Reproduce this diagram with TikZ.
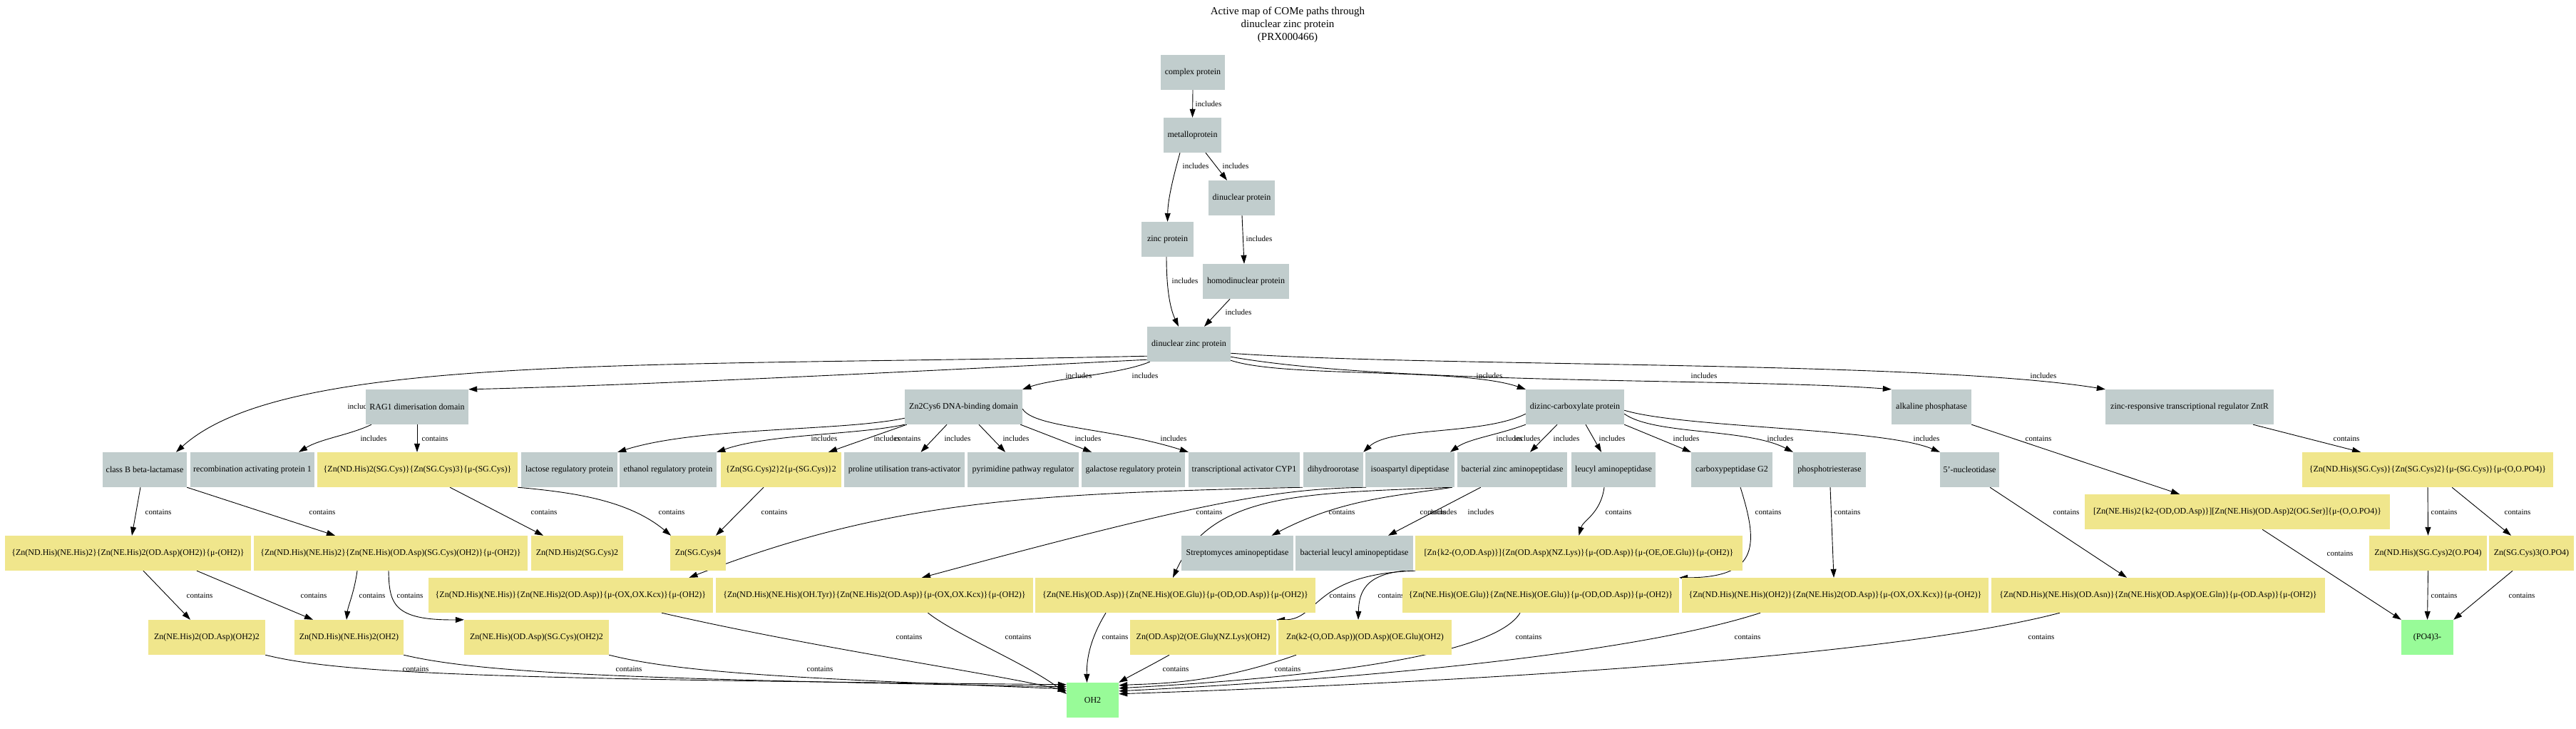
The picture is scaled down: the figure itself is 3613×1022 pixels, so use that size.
\documentclass[tikz,border=0pt]{standalone}
\usepackage{fontspec}
\setmainfont{Liberation Serif}
\usetikzlibrary{arrows.meta}
\pgfdeclarelayer{bg}
\pgfdeclarelayer{paper}
\pgfsetlayers{paper,bg,main}
\definecolor{gcol}{HTML}{C1CDCD}
\definecolor{ycol}{HTML}{F0E68C}
\definecolor{pcol}{HTML}{98FB98}
\tikzset{
  box/.style={rectangle, inner sep=0pt, minimum height=49pt, font=\fontsize{12}{14}\selectfont},
  gbox/.style={box, fill=gcol},
  ybox/.style={box, fill=ycol},
  pbox/.style={box, fill=pcol},
  lbl/.style={font=\fontsize{11}{13}\selectfont, inner sep=0pt},
  edge/.style={line width=0.9pt, -{Triangle[length=12pt,width=8pt]}},
}
\begin{document}
\begin{tikzpicture}[x=1pt,y=-1pt]
\begin{pgfonlayer}{paper}
\fill[white] (0,0) rectangle (3613,1022);
\end{pgfonlayer}
\useasboundingbox (0,0) rectangle (3613,1022);
\node[font=\fontsize{15}{18}\selectfont, align=center, inner sep=0pt] (title) at (1806,35) {Active map of COMe paths through\\dinuclear zinc protein\\(PRX000466)};
% top chain
\node[gbox, minimum width=90pt] (cp) at (1673,101.5) {complex protein};
\node[gbox, minimum width=81pt] (mp) at (1672.5,189.5) {metalloprotein};
\node[gbox, minimum width=93pt] (dp) at (1741.5,277.5) {dinuclear protein};
\node[gbox, minimum width=73pt] (zp) at (1637.5,335.5) {zinc protein};
\node[gbox, minimum width=121pt] (hp) at (1747.5,394.5) {homodinuclear protein};
\node[gbox, minimum width=117pt] (dzp) at (1667.5,482.5) {dinuclear zinc protein};
% row 1
\node[gbox, minimum width=144pt] (rag) at (585,570.5) {RAG1 dimerisation domain};
\node[gbox, minimum width=165pt] (zc6) at (1351.5,570.5) {Zn2Cys6 DNA-binding domain};
\node[gbox, minimum width=138pt] (dcp) at (2209,570.5) {dizinc-carboxylate protein};
\node[gbox, minimum width=112pt] (alp) at (2709,570.5) {alkaline phosphatase};
\node[gbox, minimum width=236pt] (znt) at (3071,570.5) {zinc-responsive transcriptional regulator ZntR};
% row 2
\node[gbox, minimum width=118pt] (cbl) at (203,658.5) {class B beta-lactamase};
\node[gbox, minimum width=174pt] (rap) at (354,658.5) {recombination activating protein 1};
\node[ybox, minimum width=281pt] (ys1) at (585.5,658.5) {\{Zn(ND.His)2(SG.Cys)\}\{Zn(SG.Cys)3\}\{μ-(SG.Cys)\}};
\node[gbox, minimum width=135pt] (lac) at (798.5,658.5) {lactose regulatory protein};
\node[gbox, minimum width=136pt] (eth) at (937,658.5) {ethanol regulatory protein};
\node[ybox, minimum width=169pt] (ys2) at (1095.5,658.5) {\{Zn(SG.Cys)2\}2\{μ-(SG.Cys)\}2};
\node[gbox, minimum width=169pt] (pro) at (1268.5,658.5) {proline utilisation trans-activator};
\node[gbox, minimum width=156pt] (pyr) at (1435,658.5) {pyrimidine pathway regulator};
\node[gbox, minimum width=145pt] (gal) at (1589.5,658.5) {galactose regulatory protein};
\node[gbox, minimum width=156pt] (cyp) at (1745,658.5) {transcriptional activator CYP1};
\node[gbox, minimum width=84pt] (dho) at (1870,658.5) {dihydroorotase};
\node[gbox, minimum width=125pt] (iso) at (1977.5,658.5) {isoaspartyl dipeptidase};
\node[gbox, minimum width=154pt] (bza) at (2121,658.5) {bacterial zinc aminopeptidase};
\node[gbox, minimum width=118pt] (lap) at (2263,658.5) {leucyl aminopeptidase};
\node[gbox, minimum width=114pt] (cpg) at (2429,658.5) {carboxypeptidase G2};
\node[gbox, minimum width=102pt] (pte) at (2566,658.5) {phosphotriesterase};
\node[gbox, minimum width=83pt] (nuc) at (2762.5,658.5) {5'-nucleotidase};
\node[ybox, minimum width=352pt] (yp1) at (3405,658.5) {\{Zn(ND.His)(SG.Cys)\}\{Zn(SG.Cys)2\}\{μ-(SG.Cys)\}\{μ-(O,O.PO4)\}};
% row 2.5
\node[ybox, minimum width=428pt] (yap) at (3138,717.5) {[Zn(NE.His)2\{k2-(OD,OD.Asp)\}][Zn(NE.His)(OD.Asp)2(OG.Ser)]\{μ-(O,O.PO4)\}};
% row 3
\node[ybox, minimum width=345pt] (r3a) at (179.5,775.5) {\{Zn(ND.His)(NE.His)2\}\{Zn(NE.His)2(OD.Asp)(OH2)\}\{μ-(OH2)\}};
\node[ybox, minimum width=384pt] (r3b) at (548,775.5) {\{Zn(ND.His)(NE.His)2\}\{Zn(NE.His)(OD.Asp)(SG.Cys)(OH2)\}\{μ-(OH2)\}};
\node[ybox, minimum width=129pt] (r3c) at (809.5,775.5) {Zn(ND.His)2(SG.Cys)2};
\node[ybox, minimum width=78pt] (r3d) at (979,775.5) {Zn(SG.Cys)4};
\node[gbox, minimum width=157pt] (str) at (1735.5,775.5) {Streptomyces aminopeptidase};
\node[gbox, minimum width=165pt] (blp) at (1899.5,775.5) {bacterial leucyl aminopeptidase};
\node[ybox, minimum width=459pt] (r3k) at (2214.5,775.5) {[Zn\{k2-(O,OD.Asp)\}]\{Zn(OD.Asp)(NZ.Lys)\}\{μ-(OD.Asp)\}\{μ-(OE,OE.Glu)\}\{μ-(OH2)\}};
\node[ybox, minimum width=165pt] (r3p1) at (3405.5,775.5) {Zn(ND.His)(SG.Cys)2(O.PO4)};
\node[ybox, minimum width=119pt] (r3p2) at (3550.5,775.5) {Zn(SG.Cys)3(O.PO4)};
% row 4
\node[ybox, minimum width=399pt] (k1) at (800.5,834.5) {\{Zn(ND.His)(NE.His)\}\{Zn(NE.His)2(OD.Asp)\}\{μ-(OX,OX.Kcx)\}\{μ-(OH2)\}};
\node[ybox, minimum width=445pt] (k2) at (1226.5,834.5) {\{Zn(ND.His)(NE.His)(OH.Tyr)\}\{Zn(NE.His)2(OD.Asp)\}\{μ-(OX,OX.Kcx)\}\{μ-(OH2)\}};
\node[ybox, minimum width=393pt] (g1) at (1648.5,834.5) {\{Zn(NE.His)(OD.Asp)\}\{Zn(NE.His)(OE.Glu)\}\{μ-(OD,OD.Asp)\}\{μ-(OH2)\}};
\node[ybox, minimum width=388pt] (g2) at (2161,834.5) {\{Zn(NE.His)(OE.Glu)\}\{Zn(NE.His)(OE.Glu)\}\{μ-(OD,OD.Asp)\}\{μ-(OH2)\}};
\node[ybox, minimum width=430pt] (k3) at (2574,834.5) {\{Zn(ND.His)(NE.His)(OH2)\}\{Zn(NE.His)2(OD.Asp)\}\{μ-(OX,OX.Kcx)\}\{μ-(OH2)\}};
\node[ybox, minimum width=468pt] (n1) at (3027,834.5) {\{Zn(ND.His)(NE.His)(OD.Asn)\}\{Zn(NE.His)(OD.Asp)(OE.Gln)\}\{μ-(OD.Asp)\}\{μ-(OH2)\}};
% row 5
\node[ybox, minimum width=164pt] (r5a) at (290,893.5) {Zn(NE.His)2(OD.Asp)(OH2)2};
\node[ybox, minimum width=153pt] (r5b) at (489.5,893.5) {Zn(ND.His)(NE.His)2(OH2)};
\node[ybox, minimum width=203pt] (r5c) at (752.5,893.5) {Zn(NE.His)(OD.Asp)(SG.Cys)(OH2)2};
\node[ybox, minimum width=205pt] (r5d) at (1687.5,893.5) {Zn(OD.Asp)2(OE.Glu)(NZ.Lys)(OH2)};
\node[ybox, minimum width=243pt] (r5e) at (1914.5,893.5) {Zn(k2-(O,OD.Asp))(OD.Asp)(OE.Glu)(OH2)};
\node[pbox, minimum width=73pt] (po4) at (3404.5,893.5) {(PO4)3-};
\node[pbox, minimum width=73pt] (oh) at (1532.5,981.5) {OH2};

\begin{pgfonlayer}{bg}
% top chain
\draw[edge] (cp.south) -- (mp.north);
\draw[edge] ([xshift=-17.5pt]mp.south) .. controls (1645,250) and (1638,280) .. (zp.north);
\draw[edge] ([xshift=18.5pt]mp.south) -- ([xshift=-20.5pt]dp.north);
\draw[edge] ([xshift=0.5pt]dp.south) -- ([xshift=-2.5pt]hp.north);
\draw[edge] ([xshift=-1.5pt]zp.south) .. controls (1636,400) and (1640,430) .. ([xshift=-14.5pt]dzp.north);
\draw[edge] ([xshift=-22.5pt]hp.south) -- ([xshift=21.5pt]dzp.north);
% from dzp
\draw[edge] ([yshift=8pt]dzp.south west) .. controls (900,515) and (400,495) .. ([xshift=44pt]cbl.north);
\draw[edge] ([yshift=3pt]dzp.south west) .. controls (1300,520) and (900,540) .. (rag.north east);
\draw[edge] ([xshift=4pt]dzp.south west) .. controls (1570,525) and (1480,530) .. (zc6.north east);
\draw[edge] ([yshift=2pt]dzp.south east) .. controls (1800,530) and (2050,515) .. (dcp.north west);
\draw[edge] ([yshift=7pt]dzp.south east) .. controls (1950,540) and (2450,530) .. (alp.north west);
\draw[edge] ([yshift=12pt]dzp.south east) .. controls (2000,515) and (2700,505) .. (znt.north west);
% Zn2Cys6
\draw[edge] ([yshift=9pt]zc6.south west) .. controls (1180,605) and (980,598) .. (lac.north east);
\draw[edge] (zc6.south west) .. controls (1200,610) and (1080,608) .. (eth.north east);
\draw[edge] ([xshift=3pt]zc6.south west) -- ([xshift=66.5pt]ys2.north);
\draw[edge] ([xshift=-23.5pt]zc6.south) -- ([xshift=23pt]pro.north);
\draw[edge] ([xshift=21.5pt]zc6.south) -- ([xshift=-25pt]pyr.north);
\draw[edge] ([xshift=-3pt]zc6.south east) -- ([xshift=-58.5pt]gal.north);
\draw[edge] ([yshift=22pt]zc6.south east) .. controls (1450,600) and (1560,600) .. (cyp.north west);
% RAG1
\draw[edge] ([xshift=-64pt]rag.south) .. controls (490,610) and (450,615) .. ([xshift=65pt]rap.north);
\draw[edge] (rag.south) -- ([xshift=-0.5pt]ys1.north);
% row 2 left to row 3
\draw[edge] ([xshift=-6pt]cbl.south) -- ([xshift=5.5pt]r3a.north);
\draw[edge] (cbl.south east) -- ([xshift=-78pt]r3b.north);
\draw[edge] ([xshift=45.5pt]ys1.south) -- ([xshift=-47.5pt]r3c.north);
\draw[edge] (ys1.south east) .. controls (800,690) and (880,700) .. ([xshift=-38pt]r3d.north);
\draw[edge] ([xshift=-24.5pt]ys2.south) -- ([xshift=25pt]r3d.north);
% row 3 left to row 5
\draw[edge] ([xshift=21.5pt]r3a.south) -- ([xshift=-23pt]r5a.north);
\draw[edge] ([xshift=96.5pt]r3a.south) -- ([xshift=-50.5pt]r5b.north);
\draw[edge] ([xshift=-47pt]r3b.south) .. controls (497,830) and (488,850) .. ([xshift=-3.5pt]r5b.north);
\draw[edge] ([xshift=-3pt]r3b.south) .. controls (546,845) and (550,870) .. (r5c.north west);
% dizinc-carboxylate
\draw[edge] ([yshift=15pt]dcp.south west) .. controls (2080,610) and (1950,598) .. (dho.north east);
\draw[edge] (dcp.south west) .. controls (2100,610) and (2060,615) .. ([xshift=56.5pt]iso.north);
\draw[edge] ([xshift=-25pt]dcp.south) -- ([xshift=25pt]bza.north);
\draw[edge] ([xshift=15pt]dcp.south) -- ([xshift=-17pt]lap.north);
\draw[edge] (dcp.south east) -- (cpg.north west);
\draw[edge] ([yshift=15pt]dcp.south east) .. controls (2320,610) and (2450,600) .. (pte.north west);
\draw[edge] ([yshift=20pt]dcp.south east) .. controls (2360,600) and (2640,600) .. (nuc.north west);
% row 2 middle
\draw[edge] ([xshift=-7pt]bza.south west) .. controls (1960,695) and (1880,700) .. ([xshift=48pt]str.north);
\draw[edge] ([xshift=33pt]bza.south west) -- ([xshift=47.5pt]blp.north);
\draw[edge] ([xshift=-9pt]bza.south west) .. controls (1830,692) and (1700,690) .. ([xshift=-3.5pt]g1.north);
\draw[edge] ([xshift=-43pt]dho.south) .. controls (1450,692) and (1250,700) .. ([xshift=166pt]k1.north);
\draw[edge] ([xshift=-61.5pt]iso.south) .. controls (1790,685) and (1680,705) .. ([xshift=66.5pt]k2.north);
\draw[edge] ([xshift=-13pt]lap.south) .. controls (2245,720) and (2220,730) .. (r3k.north);
\draw[edge] ([xshift=12pt]cpg.south) .. controls (2465,760) and (2470,810) .. (g2.north east);
\draw[edge] ([xshift=1pt]pte.south) -- ([xshift=-2pt]k3.north);
\draw[edge] ([xshift=28.5pt]nuc.south) -- ([xshift=-44pt]n1.north);
% right
\draw[edge] (alp.south east) -- ([xshift=-81pt]yap.north);
\draw[edge] ([xshift=89pt]znt.south) -- ([xshift=-94pt]yp1.north);
\draw[edge] (yp1.south) -- (r3p1.north);
\draw[edge] ([xshift=34pt]yp1.south) -- ([xshift=-28.5pt]r3p2.north);
\draw[edge] ([xshift=35pt]yap.south) -- (po4.north west);
\draw[edge] (r3p1.south) -- (po4.north);
\draw[edge] ([xshift=-26.5pt]r3p2.south) -- (po4.north east);
% r3k to row 5
\draw[edge] ([xshift=-229.5pt]r3k.south) .. controls (1840,805) and (1850,869) .. (r5d.north east);
\draw[edge] ([xshift=-243.5pt]r3k.south) .. controls (1915,805) and (1906,830) .. ([xshift=-9.5pt]r5e.north);
% to OH2
\draw[edge] (r5a.south east) .. controls (480,945) and (700,952) .. ([yshift=-3pt]oh.north west);
\draw[edge] (r5b.south east) .. controls (680,945) and (900,952) .. ([yshift=-6pt]oh.north west);
\draw[edge] (r5c.south east) .. controls (960,945) and (1150,952) .. ([yshift=-9pt]oh.north west);
\draw[edge] ([xshift=127.5pt]k1.south) .. controls (1150,910) and (1400,945) .. ([yshift=-12pt]oh.north west);
\draw[edge] ([xshift=75pt]k2.south) .. controls (1340,890) and (1440,930) .. ([yshift=-16pt]oh.north west);
\draw[edge] ([xshift=-97.5pt]g1.south) .. controls (1526,900) and (1524,930) .. ([xshift=-8pt]oh.north);
\draw[edge] ([xshift=-47.5pt]r5d.south) .. controls (1610,935) and (1590,945) .. (oh.north east);
\draw[edge] ([xshift=-96.5pt]r5e.south) .. controls (1700,960) and (1620,958) .. ([yshift=-4pt]oh.north east);
\draw[edge] ([xshift=-29pt]g2.south) .. controls (2090,930) and (1750,955) .. ([yshift=-8pt]oh.north east);
\draw[edge] ([xshift=-105pt]k3.south) .. controls (2250,930) and (1750,960) .. ([yshift=-12pt]oh.north east);
\draw[edge] ([xshift=-138pt]n1.south) .. controls (2600,935) and (1800,965) .. ([yshift=-16pt]oh.north east);
% labels
\foreach \x/\y/\t [count=\i] in {
 1695/146/includes, 1677/233/includes, 1733/233/includes, 1766/335/includes, 1662/394/includes, 1737/438/includes,
 506/570/includes, 1606/527/includes, 1513/527/includes, 2089/527/includes, 2390/527/includes, 2866/527/includes,
 524/615/includes, 610/615/contains,
 1156/615/includes, 1244/615/includes, 1273/615/contains, 1343/615/includes, 1425/615/includes, 1526/615/includes, 1646/615/includes,
 2117/615/includes, 2142/615/includes, 2197/615/includes, 2261/615/includes, 2365/615/includes, 2497/615/includes, 2702/615/includes,
 2859/615/contains, 3291/615/contains,
 222/718/contains, 452/718/contains, 763/718/contains, 942/718/contains, 1086/718/contains,
 1696/718/contains, 1882/718/contains, 2010/718/contains, 2025/718/includes, 2077/718/includes,
 2270/718/contains, 2480/718/contains, 2591/718/contains, 2898/718/contains, 3428/718/contains, 3531/718/contains,
 3282/776/contains,
 280/835/contains, 440/835/contains, 522/835/contains, 575/835/contains, 1883/835/contains, 1951/835/contains, 3428/835/contains, 3537/835/contains,
 1275/893/contains, 1428/893/contains, 1564/893/contains, 2144/893/contains, 2451/893/contains, 2863/893/contains,
 583/938/contains, 882/938/contains, 1150/938/contains, 1649/938/contains, 1806/938/contains}
 {\node[lbl] (lab\i) at (\x,\y) {\t};}
\end{pgfonlayer}
\end{tikzpicture}
\end{document}
